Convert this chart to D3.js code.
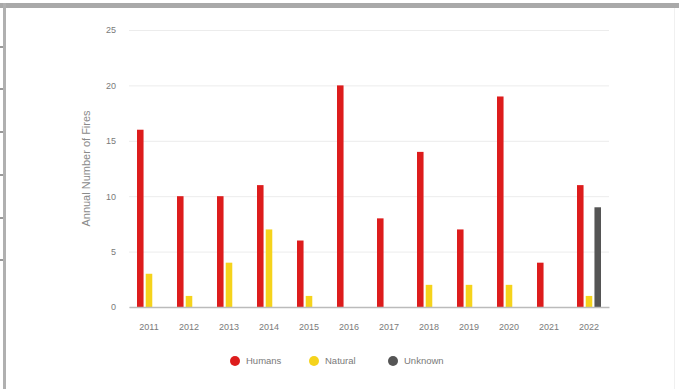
<!DOCTYPE html>
<html>
<head>
<meta charset="utf-8">
<script src="https://cdn.jsdelivr.net/npm/d3@7"></script>
<style>
  html, body { margin: 0; padding: 0; background: #fff; }
  svg { display: block; font-family: Arial, "Liberation Sans", sans-serif; }
</style>
</head>
<body>
<svg id="chart" width="679" height="389"></svg>
<script>
// Annual number of fires by cause, 2011–2022
const years   = ["2011","2012","2013","2014","2015","2016","2017","2018","2019","2020","2021","2022"];
const humans  = [16, 10, 10, 11, 6, 20, 8, 14, 7, 19, 4, 11];
const natural = [3, 1, 4, 7, 1, 0, 0, 2, 2, 2, 0, 1];
const unknown = [0, 0, 0, 0, 0, 0, 0, 0, 0, 0, 0, 9];
const seriesNames  = ["Humans", "Natural", "Unknown"];
const seriesColors = ["#dd1c1c", "#f5d31c", "#555555"];
const yTicks = [0, 5, 10, 15, 20, 25];

const seriesValues = [humans, natural, unknown];
const rows = years.map((yr, i) => ({
  year: yr,
  values: seriesNames.map((name, s) => ({ name, value: seriesValues[s][i] }))
}));

const svg = d3.select("#chart");
const W = 679, H = 389;

// Frame of the surrounding panel
svg.append("rect").attr("x", 0).attr("y", 3).attr("width", W).attr("height", 5).attr("fill", "#a9a9a9");
svg.append("rect").attr("x", 3).attr("y", 3).attr("width", 3).attr("height", H).attr("fill", "#b0b0b0");
svg.append("line").attr("x1", 674.5).attr("x2", 674.5).attr("y1", 8).attr("y2", H)
  .attr("stroke", "#f0f0f0").attr("stroke-width", 1);
[47, 89, 132, 175, 218, 260].forEach(t => {
  svg.append("line").attr("x1", 0).attr("x2", 3).attr("y1", t).attr("y2", t)
    .attr("stroke", "#777").attr("stroke-width", 1.5);
});

const plot = { left: 129, right: 609, top: 30, bottom: 307 };

const x = d3.scaleBand().domain(years).range([plot.left, plot.right]).padding(0);
const x1 = d3.scaleBand().domain(seriesNames).range([-12, 12]).paddingInner(0.25).paddingOuter(0);
const y = d3.scaleLinear().domain([0, 25]).range([plot.bottom, plot.top]);
const color = d3.scaleOrdinal().domain(seriesNames).range(seriesColors);

// Gridlines and y tick labels
const yAxis = d3.axisLeft(y).tickValues(yTicks).tickSize(-(plot.right - plot.left)).tickPadding(13);
const gy = svg.append("g").attr("transform", `translate(${plot.left},0)`).call(yAxis);
gy.select(".domain").remove();
gy.selectAll(".tick line").attr("stroke", "#ececec").attr("stroke-width", 1);
gy.selectAll(".tick text").attr("fill", "#7a7a7a").style("font-size", "9px");

// Bars
const groups = svg.append("g").selectAll("g").data(rows).join("g")
  .attr("transform", d => `translate(${x(d.year) + x.bandwidth() / 2},0)`);
groups.selectAll("rect").data(d => d.values.filter(v => v.value > 0)).join("rect")
  .attr("x", d => x1(d.name))
  .attr("width", x1.bandwidth())
  .attr("y", d => y(d.value))
  .attr("height", d => y(0) - y(d.value))
  .attr("fill", d => color(d.name));

// Baseline and year labels
const xAxis = d3.axisBottom(x).tickSize(0).tickPadding(17);
const gx = svg.append("g").attr("transform", `translate(0,${plot.bottom})`).call(xAxis);
gx.select(".domain").attr("stroke", "#bbbbbb").attr("stroke-width", 1.5);
gx.selectAll(".tick text").attr("fill", "#7a7a7a").style("font-size", "9px");

// Y-axis title
svg.append("text")
  .attr("transform", `translate(90,${(plot.top + plot.bottom) / 2}) rotate(-90)`)
  .attr("text-anchor", "middle")
  .attr("fill", "#8a8a8a")
  .style("font-size", "11px")
  .text("Annual Number of Fires");

// Legend
const legendX = [235, 314, 393];
const legend = svg.append("g").selectAll("g").data(seriesNames).join("g")
  .attr("transform", (d, i) => `translate(${legendX[i]},361)`);
legend.append("circle").attr("r", 5).attr("fill", d => color(d));
legend.append("text").attr("x", 11).attr("dy", "0.35em")
  .attr("fill", "#7a7a7a").style("font-size", "9.5px").text(d => d);
</script>
</body>
</html>
